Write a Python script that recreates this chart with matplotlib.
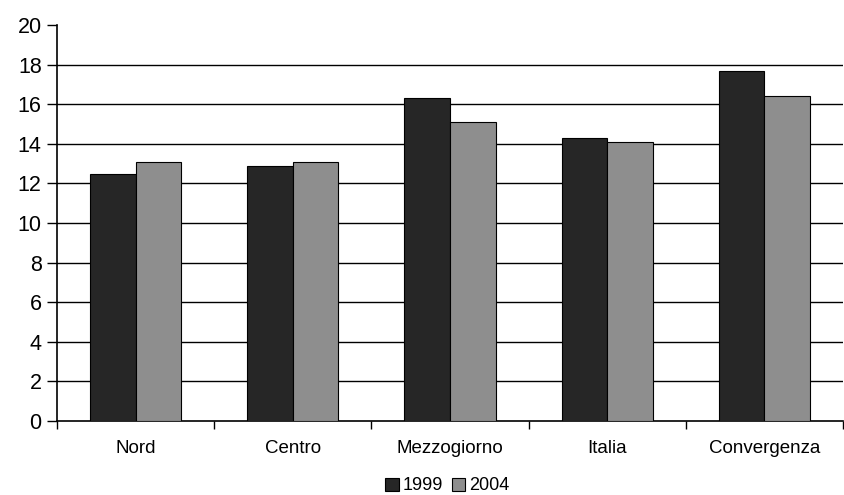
import matplotlib
matplotlib.use("Agg")
import matplotlib.pyplot as plt
import numpy as np

categories = ["Nord", "Centro", "Mezzogiorno", "Italia", "Convergenza"]
series_names = ["1999", "2004"]
values_1999 = [12.5, 12.9, 16.3, 14.3, 17.7]
values_2004 = [13.1, 13.1, 15.1, 14.1, 16.4]
y_ticks = [0, 2, 4, 6, 8, 10, 12, 14, 16, 18, 20]

plt.rcParams['font.family'] = ['Liberation Sans', 'DejaVu Sans']

fig = plt.figure(figsize=(8.45, 4.95), dpi=100)
ax = fig.add_axes([57/845, 1-421/495, (843-57)/845, (421-25)/495])

x = np.arange(len(categories))
w = 0.29
ax.bar(x - w/2, values_1999, w, color="#262626", edgecolor="black", linewidth=0.8, label=series_names[0], zorder=3)
ax.bar(x + w/2, values_2004, w, color="#8e8e8e", edgecolor="black", linewidth=0.8, label=series_names[1], zorder=3)

ax.set_xlim(-0.5, len(categories) - 0.5)
ax.set_ylim(0, 20)
ax.set_yticks(y_ticks)
ax.tick_params(axis='y', labelsize=15.5, length=7, width=1, direction='out', pad=4)
for t in y_ticks[1:-1]:
    ax.axhline(t, color="black", linewidth=1, zorder=1)

ax.set_xticks(x)
ax.set_xticklabels(categories, fontsize=13.5)
ax.tick_params(axis='x', length=0, pad=14)
ax.set_xticks(np.arange(len(categories) + 1) - 0.5, minor=True)
ax.tick_params(axis='x', which='minor', length=6, width=1, direction='out')

for s in ["top", "right"]:
    ax.spines[s].set_visible(False)
ax.spines["left"].set_linewidth(1.2)
ax.spines["bottom"].set_linewidth(1.2)

fig.legend(loc="center", bbox_to_anchor=(447/845, 1-486/495), ncol=2, frameon=False,
           fontsize=13, handlelength=0.75, handleheight=0.75, handletextpad=0.2, columnspacing=0.5)

fig.savefig("out.png", dpi=100)
